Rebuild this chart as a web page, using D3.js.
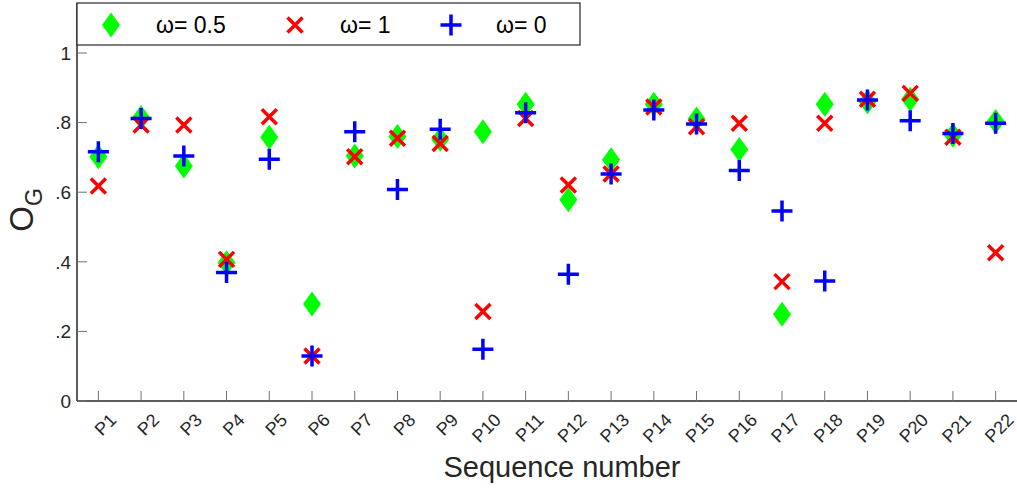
<!DOCTYPE html>
<html>
<head>
<meta charset="utf-8">
<script src="https://cdn.jsdelivr.net/npm/d3@7"></script>
<style>
  body { margin: 0; background: #fff; }
  svg { display: block; font-family: "Liberation Sans", Arial, sans-serif; }
</style>
</head>
<body>
<svg id="chart"></svg>
<script>
let width = 1017;
let height = 490;

// sequences P1..P22
let sequences = d3.range(1, 23).map(n => 'P' + n);

// O_G per sequence for each weight
let halfW = [0.702, 0.815, 0.675, 0.397, 0.758, 0.279, 0.704, 0.760, 0.752, 0.774, 0.853,
             0.578, 0.693, 0.853, 0.810, 0.723, 0.249, 0.853, 0.860, 0.867, 0.764, 0.803];
let oneW  = [0.618, 0.793, 0.793, 0.407, 0.817, 0.129, 0.702, 0.755, 0.740, 0.257, 0.812,
             0.621, 0.652, 0.845, 0.788, 0.798, 0.343, 0.798, 0.867, 0.884, 0.758, 0.426];
let zeroW = [0.716, 0.812, 0.704, 0.369, 0.695, 0.129, 0.774, 0.608, 0.781, 0.149, 0.828,
             0.364, 0.652, 0.836, 0.796, 0.662, 0.546, 0.345, 0.865, 0.805, 0.769, 0.798];

let yTicks = [0, 0.2, 0.4, 0.6, 0.8, 1];
let yTickLabels = ['0', '.2', '.4', '.6', '.8', '1'];

let axisColor = '#262626';
let tickColor = '#707070';

let svg = d3.select('#chart')
  .attr('width', width)
  .attr('height', height);

let x = d3.scaleLinear().domain([0.5, 22.5]).range([77, 1017]);
let y = d3.scaleLinear().domain([0, 1]).range([401, 53]);

// axes: only left and bottom lines, ticks pointing inward
svg.append('line')
  .attr('x1', x(0.5)).attr('x2', x(22.5))
  .attr('y1', y(0)).attr('y2', y(0))
  .attr('stroke', axisColor).attr('stroke-width', 1.5);

svg.append('line')
  .attr('x1', x(0.5)).attr('x2', x(0.5))
  .attr('y1', y(0)).attr('y2', 3)
  .attr('stroke', axisColor).attr('stroke-width', 1.5);

svg.selectAll('.xtick')
  .data(sequences)
  .enter()
  .append('line')
    .classed('xtick', true)
    .attr('x1', (d, i) => x(i + 1)).attr('x2', (d, i) => x(i + 1))
    .attr('y1', y(0)).attr('y2', y(0) - 10)
    .attr('stroke', tickColor).attr('stroke-width', 1);

svg.selectAll('.xlabel')
  .data(sequences)
  .enter()
  .append('text')
    .classed('xlabel', true)
    .attr('transform', (d, i) => `translate(${x(i + 1) + 10}, 412) rotate(-45)`)
    .attr('text-anchor', 'end')
    .attr('dy', '0.72em')
    .attr('font-size', 18)
    .attr('fill', axisColor)
    .text(d => d);

svg.selectAll('.ytick')
  .data(yTicks)
  .enter()
  .append('line')
    .classed('ytick', true)
    .attr('x1', x(0.5)).attr('x2', x(0.5) + 10)
    .attr('y1', d => y(d)).attr('y2', d => y(d))
    .attr('stroke', tickColor).attr('stroke-width', 1);

svg.selectAll('.ylabel')
  .data(yTicks)
  .enter()
  .append('text')
    .classed('ylabel', true)
    .attr('x', 71)
    .attr('y', d => y(d))
    .attr('dy', '0.36em')
    .attr('text-anchor', 'end')
    .attr('font-size', 19)
    .attr('fill', axisColor)
    .text((d, i) => yTickLabels[i]);

// axis titles
svg.append('text')
  .attr('x', (x(0.5) + x(22.5)) / 2 + 15)
  .attr('y', 477)
  .attr('text-anchor', 'middle')
  .attr('font-size', 29)
  .attr('fill', axisColor)
  .text('Sequence number');

let yTitle = svg.append('text')
  .attr('transform', 'translate(33, 210) rotate(-90)')
  .attr('text-anchor', 'middle')
  .attr('fill', axisColor)
  .attr('font-size', 33);
yTitle.append('tspan').text('O');
yTitle.append('tspan')
  .attr('font-size', 23)
  .attr('dy', 9)
  .text('G');

// marker shapes
function diamond(g, color) {
  g.append('path')
    .attr('d', 'M0,-12.5L9,0L0,12.5L-9,0Z')
    .attr('fill', color);
}

function cross(g, color) {
  g.append('path')
    .attr('d', 'M-7.5,-7.5L7.5,7.5M-7.5,7.5L7.5,-7.5')
    .attr('stroke', color)
    .attr('stroke-width', 3.5)
    .attr('fill', 'none');
}

function plus(g, color) {
  g.append('path')
    .attr('d', 'M-10.5,0L10.5,0M0,-10.5L0,10.5')
    .attr('stroke', color)
    .attr('stroke-width', 3.5)
    .attr('fill', 'none');
}

let series = [
  {values: halfW, color: '#00ff00', shape: diamond, name: 'ω= 0.5'},
  {values: oneW,  color: '#ff0000', shape: cross,   name: 'ω= 1'},
  {values: zeroW, color: '#0000ff', shape: plus,    name: 'ω= 0'}
];

series.forEach(s => {
  svg.append('g')
    .selectAll('g')
    .data(s.values)
    .enter()
    .append('g')
      .attr('transform', (d, i) => `translate(${x(i + 1)}, ${y(d)})`)
      .each(function() { s.shape(d3.select(this), s.color); });
});

// legend across the top
let legend = svg.append('g');
legend.append('rect')
  .attr('x', 77).attr('y', 3)
  .attr('width', 503).attr('height', 42)
  .attr('fill', '#fff')
  .attr('stroke', axisColor)
  .attr('stroke-width', 1.2);

let legendX = [111, 295, 451];
series.forEach((s, i) => {
  let item = legend.append('g')
    .attr('transform', `translate(${legendX[i]}, 25)`);
  s.shape(item, s.color);
  item.append('text')
    .attr('x', 45)
    .attr('dy', '0.36em')
    .attr('font-size', 23)
    .attr('fill', '#000')
    .text(s.name);
});
</script>
</body>
</html>
